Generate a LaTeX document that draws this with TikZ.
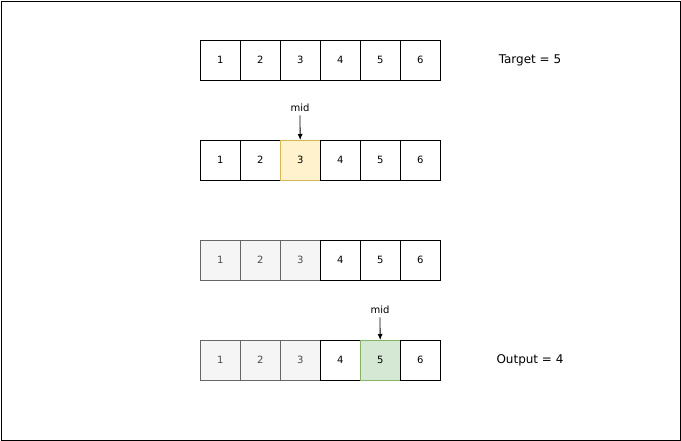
\documentclass[tikz,border=0pt]{standalone}
\usepackage{fontspec}
\usetikzlibrary{arrows.meta}
\setmainfont{DejaVu Sans}
\begin{document}
\begin{tikzpicture}[x=1pt,y=-1pt,
  cell/.style={draw=black,minimum width=40pt,minimum height=40pt,anchor=north west,font=\fontsize{10}{12}\selectfont,inner sep=0pt},
  grey/.style={fill=black!4,draw=black!60,text=black!70},
  yel/.style={fill={rgb,255:red,255;green,242;blue,204},draw={rgb,255:red,214;green,182;blue,86}},
  grn/.style={fill={rgb,255:red,213;green,232;blue,212},draw={rgb,255:red,130;green,179;blue,102}},
  lbl/.style={font=\fontsize{12}{14}\selectfont},
  midl/.style={font=\fontsize{10}{12}\selectfont},
  arr/.style={-{Latex[length=6pt,width=5pt]},line width=0.8pt}]
\useasboundingbox (0,0) rectangle (681,441);
\node[draw,line width=0.8pt,minimum width=679pt,minimum height=439pt,anchor=north west,inner sep=0pt] (frame) at (1,1) {};
\foreach \i in {1,...,6}{\node[cell] (a\i) at ({160+40*\i},40) {\i};}
\foreach \i/\s in {1/,2/,3/yel,4/,5/,6/}{\node[cell,\s] (b\i) at ({160+40*\i},140) {\i};}
\foreach \i/\s in {1/grey,2/grey,3/grey,4/,5/,6/}{\node[cell,\s] (c\i) at ({160+40*\i},240) {\i};}
\foreach \i/\s in {1/grey,2/grey,3/grey,4/,5/grn,6/}{\node[cell,\s] (d\i) at ({160+40*\i},340) {\i};}
\node[lbl] (t) at (530,60) {Target = 5};
\node[lbl] (o) at (530,360) {Output = 4};
\node[midl] (m1) at (300,108) {mid};
\node[midl] (m2) at (380,310) {mid};
\draw[arr] (m1.south) -- (b3.north);
\draw[arr] (m2.south) -- (d5.north);
\end{tikzpicture}
\end{document}
